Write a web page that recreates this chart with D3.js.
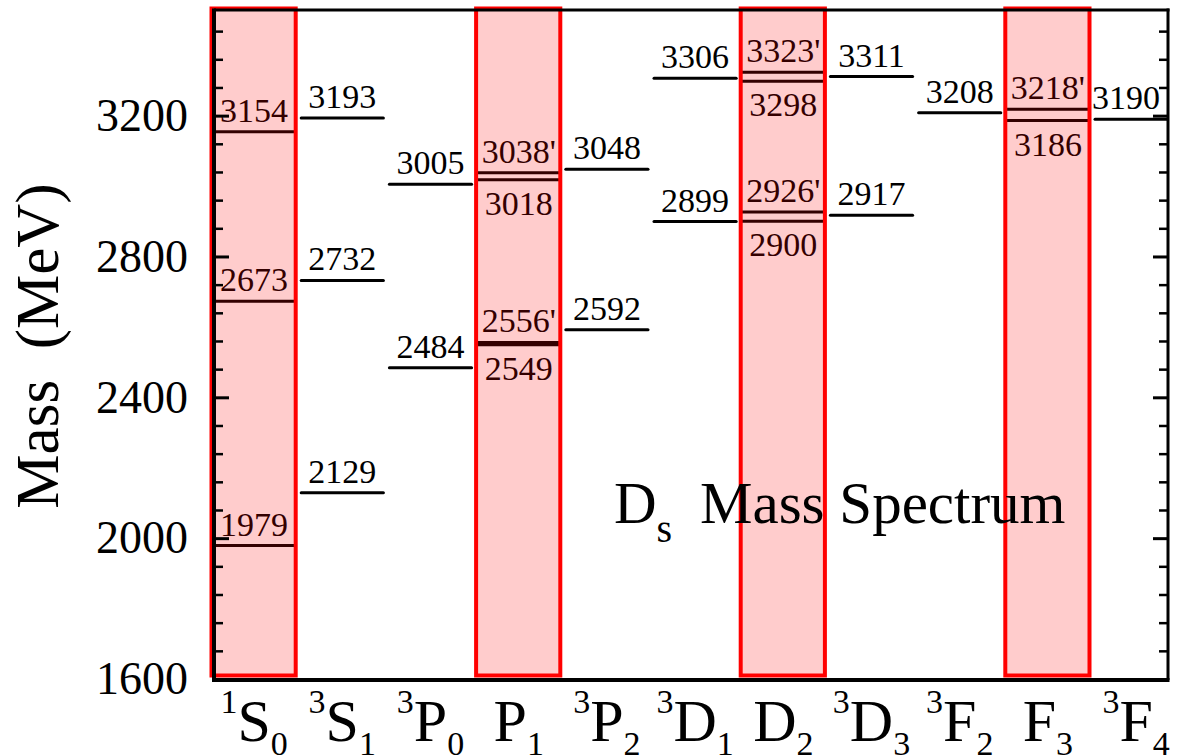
<!DOCTYPE html>
<html>
<head>
  <meta charset="utf-8">
  <title>Ds Mass Spectrum</title>
  <script src="https://d3js.org/d3.v7.min.js"></script>
  <style>
    body { margin: 0; background: #fff; }
    text { font-family: "Liberation Serif", "Times New Roman", serif; fill: #000; }
    .level { stroke: #000; stroke-width: 3px; stroke-linecap: round; }
    .box { fill: rgba(255, 0, 0, 0.2); stroke: #ff0000; stroke-width: 4px; }
    .frame { fill: none; stroke: #000; }
  </style>
</head>
<body>
  <svg width="1180" height="756"></svg>

  <script>
    // Categories (spectroscopic states) and their label parts
    const categories = ["1S0", "3S1", "3P0", "P1", "3P2", "3D1", "D2", "3D3", "3F2", "F3", "3F4"];
    const catSup = ["1", "3", "3", "", "3", "3", "", "3", "3", "", "3"];
    const catLetter = ["S", "S", "P", "P", "P", "D", "D", "D", "F", "F", "F"];
    const catSub = ["0", "1", "0", "1", "2", "1", "2", "3", "2", "3", "4"];

    // Shaded (mixed) columns
    const highlighted = ["1S0", "P1", "D2", "F3"];

    // Masses (MeV), one list per category
    const massPlain = [
      [1979, 2673, 3154],
      [2129, 2732, 3193],
      [2484, 3005],
      [2549, 3018],
      [2592, 3048],
      [2899, 3306],
      [2900, 3298],
      [2917, 3311],
      [3208],
      [3186],
      [3190]
    ];
    // Primed partner states
    const massPrimed = [
      [], [], [],
      [2556, 3038],
      [], [],
      [2926, 3323],
      [], [],
      [3218],
      []
    ];

    const yTicks = [1600, 2000, 2400, 2800, 3200];
    const yDomain = [1600, 3500];

    const plotLeft = 214, plotRight = 1168, plotTop = 10, plotBottom = 680;

    const svg = d3.select("svg");

    const x = d3.scaleBand()
      .domain(categories)
      .range([210, 210 + 88.2 * categories.length])
      .padding(0);

    const y = d3.scaleLinear()
      .domain(yDomain)
      .range([679, plotTop]);

    const bw = x.bandwidth();

    svg.append("defs").append("clipPath")
      .attr("id", "plotClip")
      .append("rect")
      .attr("x", plotLeft).attr("y", plotTop)
      .attr("width", plotRight - plotLeft).attr("height", plotBottom - plotTop);

    // Build the list of levels
    const levels = [];
    categories.forEach((c, i) => {
      const hasPrimed = massPrimed[i].length > 0;
      massPlain[i].forEach(m => levels.push({ cat: c, mass: m, label: String(m), pos: hasPrimed ? "below" : "above" }));
      massPrimed[i].forEach(m => levels.push({ cat: c, mass: m, label: m + "'", pos: "above" }));
    });

    const plot = svg.append("g").attr("clip-path", "url(#plotClip)");

    plot.selectAll(".level")
      .data(levels)
      .enter().append("line")
      .attr("class", "level")
      .attr("x1", d => x(d.cat) + 3)
      .attr("x2", d => x(d.cat) + bw - 3)
      .attr("y1", d => y(d.mass))
      .attr("y2", d => y(d.mass));

    // Level labels
    svg.selectAll(".lvl-label")
      .data(levels)
      .enter().append("text")
      .attr("class", "lvl-label")
      .attr("x", d => Math.min(x(d.cat) + bw / 2, plotRight - 42))
      .attr("y", d => d.pos === "above" ? y(d.mass) - 10 : y(d.mass) + 35)
      .attr("text-anchor", "middle")
      .attr("font-size", "34px")
      .text(d => d.label);

    // Shaded boxes on top
    svg.selectAll(".box")
      .data(highlighted)
      .enter().append("rect")
      .attr("class", "box")
      .attr("x", d => x(d) + 1.5)
      .attr("y", 8.5)
      .attr("width", bw - 4)
      .attr("height", 675.5 - 8.5);

    // Frame
    svg.append("line").attr("class", "frame").attr("x1", plotLeft).attr("x2", plotRight + 1.5)
      .attr("y1", plotTop).attr("y2", plotTop).attr("stroke-width", 3);
    svg.append("line").attr("class", "frame").attr("x1", plotLeft - 2).attr("x2", plotRight + 1.5)
      .attr("y1", plotBottom).attr("y2", plotBottom).attr("stroke-width", 4);
    svg.append("line").attr("class", "frame").attr("x1", plotLeft).attr("x2", plotLeft)
      .attr("y1", plotTop - 1.5).attr("y2", plotBottom).attr("stroke-width", 4);
    svg.append("line").attr("class", "frame").attr("x1", plotRight).attr("x2", plotRight)
      .attr("y1", plotTop - 1.5).attr("y2", plotBottom).attr("stroke-width", 3);

    // Y axes: ticks point inward
    const minorTicks = d3.range(yDomain[0], yDomain[1], 80).filter(v => v % 400 !== 0);

    const leftMajor = svg.append("g")
      .attr("transform", `translate(${plotLeft},0)`)
      .call(d3.axisLeft(y).tickValues(yTicks).tickSize(-15).tickPadding(26).tickFormat(d3.format("d")));
    leftMajor.select(".domain").remove();
    leftMajor.selectAll(".tick line").attr("stroke-width", 3);
    leftMajor.selectAll(".tick text")
      .attr("font-size", "46px")
      .attr("font-family", "'Liberation Serif', 'Times New Roman', serif");

    const leftMinor = svg.append("g")
      .attr("transform", `translate(${plotLeft},0)`)
      .call(d3.axisLeft(y).tickValues(minorTicks).tickSize(-9).tickFormat(""));
    leftMinor.select(".domain").remove();
    leftMinor.selectAll(".tick line").attr("stroke-width", 2.5);

    const rightMajor = svg.append("g")
      .attr("transform", `translate(${plotRight},0)`)
      .call(d3.axisRight(y).tickValues(yTicks).tickSize(-15).tickFormat(""));
    rightMajor.select(".domain").remove();
    rightMajor.selectAll(".tick line").attr("stroke-width", 3);

    const rightMinor = svg.append("g")
      .attr("transform", `translate(${plotRight},0)`)
      .call(d3.axisRight(y).tickValues(minorTicks).tickSize(-9).tickFormat(""));
    rightMinor.select(".domain").remove();
    rightMinor.selectAll(".tick line").attr("stroke-width", 2.5);

    // Category labels with super/subscripts
    const catLabels = svg.selectAll(".cat-label")
      .data(categories)
      .enter().append("text")
      .attr("class", "cat-label")
      .attr("x", d => x(d) + bw / 2)
      .attr("y", 741)
      .attr("text-anchor", "middle");

    catLabels.each(function (d, i) {
      const t = d3.select(this);
      const sup = catSup[i];
      if (sup) {
        t.append("tspan").attr("font-size", "34px").attr("dy", -28).text(sup);
        t.append("tspan").attr("font-size", "60px").attr("dy", 28).text(catLetter[i]);
      } else {
        t.append("tspan").attr("font-size", "60px").text(catLetter[i]);
      }
      t.append("tspan").attr("font-size", "34px").attr("dy", 14).text(catSub[i]);
    });

    // Axis title
    svg.append("text")
      .attr("transform", "translate(58,346) rotate(-90)")
      .attr("text-anchor", "middle")
      .attr("font-size", "61px")
      .style("white-space", "pre")
      .text("Mass  (MeV)");

    // Inset title
    const title = svg.append("text")
      .attr("x", 614)
      .attr("y", 523);
    title.append("tspan").attr("font-size", "59px").text("D");
    title.append("tspan").attr("font-size", "40px").attr("dy", 19).text("s");
    title.append("tspan").attr("font-size", "59px").attr("x", 700).attr("dy", -19).text("Mass Spectrum");
  </script>
</body>
</html>
